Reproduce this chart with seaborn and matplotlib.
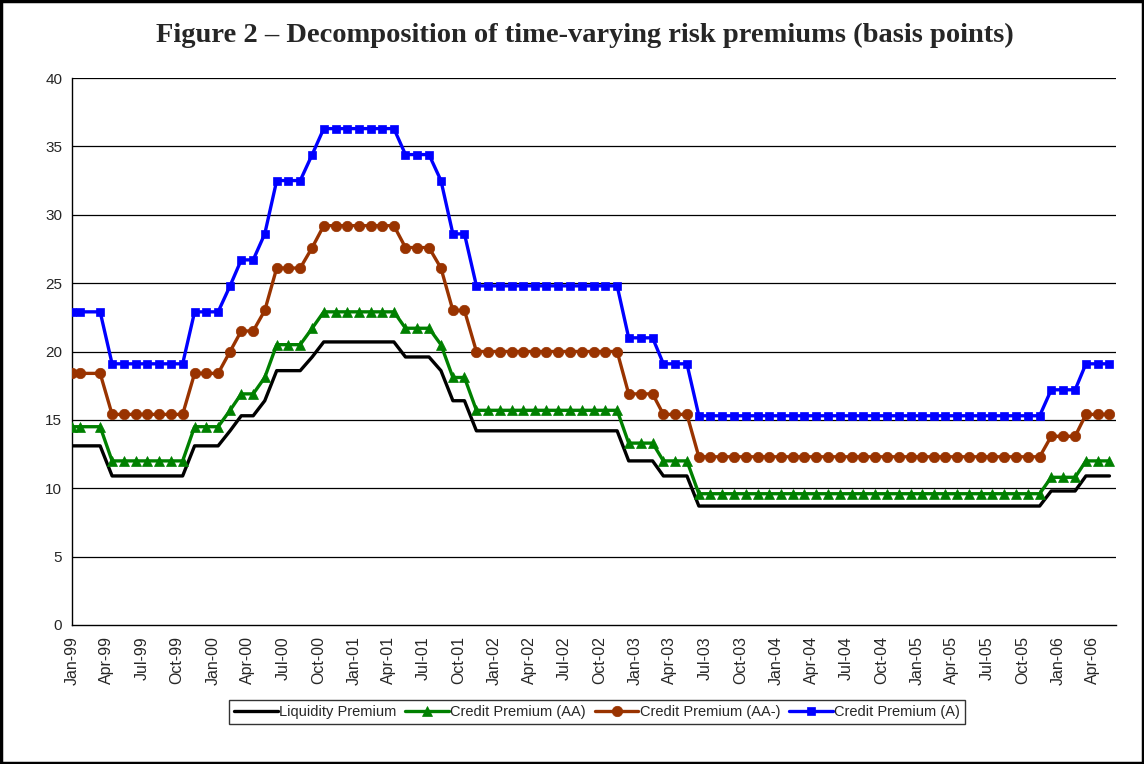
import pandas as pd
import numpy as np
import seaborn as sns
import matplotlib.pyplot as plt
import matplotlib.dates as mdates
from matplotlib.patches import Rectangle

# Month dates (observation dates, roughly mid-month; first two fall in Jan-99)
dates = [pd.Timestamp('1999-01-01'), pd.Timestamp('1999-01-21')] + \
    list(pd.date_range('1999-03-01', '2006-05-01', freq='MS') + pd.Timedelta(days=14))

liquidity = [13.1, 13.1, 13.1, 10.9, 10.9, 10.9, 10.9, 10.9, 10.9, 10.9,
             13.1, 13.1, 13.1, 14.2, 15.3, 15.3, 16.4, 18.6, 18.6, 18.6,
             19.6, 20.7, 20.7, 20.7, 20.7, 20.7, 20.7, 20.7, 19.6, 19.6,
             19.6, 18.6, 16.4, 16.4, 14.2, 14.2, 14.2, 14.2, 14.2, 14.2,
             14.2, 14.2, 14.2, 14.2, 14.2, 14.2, 14.2, 12.0, 12.0, 12.0,
             10.9, 10.9, 10.9, 8.7, 8.7, 8.7, 8.7, 8.7, 8.7, 8.7,
             8.7, 8.7, 8.7, 8.7, 8.7, 8.7, 8.7, 8.7, 8.7, 8.7,
             8.7, 8.7, 8.7, 8.7, 8.7, 8.7, 8.7, 8.7, 8.7, 8.7,
             8.7, 8.7, 8.7, 9.8, 9.8, 9.8, 10.9, 10.9, 10.9]

credit_aa = [14.5, 14.5, 14.5, 12.0, 12.0, 12.0, 12.0, 12.0, 12.0, 12.0,
             14.5, 14.5, 14.5, 15.7, 16.9, 16.9, 18.1, 20.5, 20.5, 20.5,
             21.7, 22.9, 22.9, 22.9, 22.9, 22.9, 22.9, 22.9, 21.7, 21.7,
             21.7, 20.5, 18.1, 18.1, 15.7, 15.7, 15.7, 15.7, 15.7, 15.7,
             15.7, 15.7, 15.7, 15.7, 15.7, 15.7, 15.7, 13.3, 13.3, 13.3,
             12.0, 12.0, 12.0, 9.6, 9.6, 9.6, 9.6, 9.6, 9.6, 9.6,
             9.6, 9.6, 9.6, 9.6, 9.6, 9.6, 9.6, 9.6, 9.6, 9.6,
             9.6, 9.6, 9.6, 9.6, 9.6, 9.6, 9.6, 9.6, 9.6, 9.6,
             9.6, 9.6, 9.6, 10.8, 10.8, 10.8, 12.0, 12.0, 12.0]

credit_aa_minus = [18.4, 18.4, 18.4, 15.4, 15.4, 15.4, 15.4, 15.4, 15.4, 15.4,
                   18.4, 18.4, 18.4, 20.0, 21.5, 21.5, 23.0, 26.1, 26.1, 26.1,
                   27.6, 29.2, 29.2, 29.2, 29.2, 29.2, 29.2, 29.2, 27.6, 27.6,
                   27.6, 26.1, 23.0, 23.0, 20.0, 20.0, 20.0, 20.0, 20.0, 20.0,
                   20.0, 20.0, 20.0, 20.0, 20.0, 20.0, 20.0, 16.9, 16.9, 16.9,
                   15.4, 15.4, 15.4, 12.3, 12.3, 12.3, 12.3, 12.3, 12.3, 12.3,
                   12.3, 12.3, 12.3, 12.3, 12.3, 12.3, 12.3, 12.3, 12.3, 12.3,
                   12.3, 12.3, 12.3, 12.3, 12.3, 12.3, 12.3, 12.3, 12.3, 12.3,
                   12.3, 12.3, 12.3, 13.8, 13.8, 13.8, 15.4, 15.4, 15.4]

credit_a = [22.9, 22.9, 22.9, 19.1, 19.1, 19.1, 19.1, 19.1, 19.1, 19.1,
            22.9, 22.9, 22.9, 24.8, 26.7, 26.7, 28.6, 32.5, 32.5, 32.5,
            34.4, 36.3, 36.3, 36.3, 36.3, 36.3, 36.3, 36.3, 34.4, 34.4,
            34.4, 32.5, 28.6, 28.6, 24.8, 24.8, 24.8, 24.8, 24.8, 24.8,
            24.8, 24.8, 24.8, 24.8, 24.8, 24.8, 24.8, 21.0, 21.0, 21.0,
            19.1, 19.1, 19.1, 15.3, 15.3, 15.3, 15.3, 15.3, 15.3, 15.3,
            15.3, 15.3, 15.3, 15.3, 15.3, 15.3, 15.3, 15.3, 15.3, 15.3,
            15.3, 15.3, 15.3, 15.3, 15.3, 15.3, 15.3, 15.3, 15.3, 15.3,
            15.3, 15.3, 15.3, 17.2, 17.2, 17.2, 19.1, 19.1, 19.1]

series_names = ['Liquidity Premium', 'Credit Premium (AA)',
                'Credit Premium (AA-)', 'Credit Premium (A)']
colors = ['#000000', '#008000', '#993300', '#0000FF']
markers = [None, '^', 'o', 's']
marker_sizes = [0, 7.5, 7.5, 6.2]

# Long-form table for seaborn
df = pd.concat([
    pd.DataFrame({'date': dates, 'value': vals, 'series': name})
    for name, vals in zip(series_names, [liquidity, credit_aa, credit_aa_minus, credit_a])
])

sns.set_style('white')
plt.rcParams['font.family'] = ['Liberation Sans', 'DejaVu Sans']

fig = plt.figure(figsize=(11.44, 7.64), dpi=100)
ax = fig.add_axes([72 / 1144, 1 - 625 / 764, (1116 - 72) / 1144, (625 - 78) / 764])

for name, col, mk, ms in zip(series_names, colors, markers, marker_sizes):
    sub = df[df['series'] == name]
    sns.lineplot(data=sub, x='date', y='value', ax=ax, color=col, lw=2.4,
                 marker=mk if mk else '', markersize=ms, markeredgecolor=col,
                 markeredgewidth=0.5, label=name, zorder=3)

# Axes limits and ticks
ax.set_xlim(pd.Timestamp('1999-01-01'), pd.Timestamp('2006-06-01'))
ax.set_ylim(0, 40)
ax.set_yticks(range(0, 41, 5))
ax.xaxis.set_major_locator(mdates.MonthLocator(bymonth=[1, 4, 7, 10]))
ax.xaxis.set_major_formatter(mdates.DateFormatter('%b-%y'))
plt.setp(ax.get_xticklabels(), rotation=90, fontsize=11.5)
plt.setp(ax.get_yticklabels(), fontsize=11)
ax.tick_params(axis='both', direction='out', length=4, width=1, color='#000000', pad=3)
ax.tick_params(axis='x', pad=4)
ax.set_xlabel('')
ax.set_ylabel('')

# Gridlines and spines
for yv in range(5, 41, 5):
    ax.axhline(yv, color='#000000', lw=0.9, zorder=1)
for side in ['top', 'right']:
    ax.spines[side].set_visible(False)
for side in ['left', 'bottom']:
    ax.spines[side].set_color('#000000')
    ax.spines[side].set_linewidth(1.0)

# Legend below the axis
handles, labels = ax.get_legend_handles_labels()
leg = ax.legend(handles, labels, loc='center', bbox_to_anchor=(597 / 1144, 1 - 712 / 764),
                bbox_transform=fig.transFigure, ncol=4, frameon=True, fancybox=False,
                edgecolor='#000000', fontsize=10.5, handlelength=3.0, handletextpad=0.1,
                columnspacing=0.6, borderpad=0.35)
leg.get_frame().set_linewidth(1.0)

# Title and outer frame
fig.text(585 / 1144, 1 - 35 / 764,
         'Figure 2 \u2013 Decomposition of time-varying risk premiums (basis points)',
         ha='center', va='center', fontsize=20.5, fontweight='bold', family='Liberation Serif')
fig.patches.append(Rectangle((0.001, 0.001), 0.998, 0.998, transform=fig.transFigure,
                             fill=False, edgecolor='#000000', lw=2.5))

plt.savefig('out.png', dpi=100)
plt.close()
